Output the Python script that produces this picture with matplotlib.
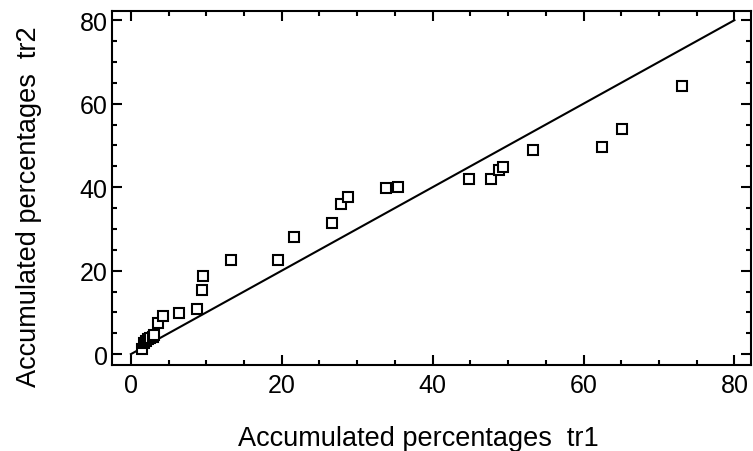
import matplotlib
matplotlib.use("Agg")
import matplotlib.pyplot as plt
from matplotlib.ticker import MultipleLocator

plt.rcParams['font.family'] = ['Liberation Sans', 'DejaVu Sans']

# accumulated percentages
tr1 = [1.5, 1.7, 2.0, 2.3, 2.6, 2.9, 3.1, 3.6, 4.3, 6.4, 8.8, 9.4, 9.6,
       13.3, 19.5, 21.6, 26.7, 27.8, 28.8, 33.8, 35.4, 44.8, 47.7, 48.8,
       49.3, 53.3, 62.5, 65.1, 73.1]
tr2 = [1.2, 2.6, 3.2, 3.6, 3.9, 4.2, 4.6, 7.4, 9.1, 9.8, 10.8, 15.3, 18.7,
       22.5, 22.5, 28.0, 31.4, 35.9, 37.6, 39.7, 40.1, 42.0, 42.0, 44.2,
       44.8, 48.9, 49.6, 53.9, 64.2]
diag = [0, 80]

fig = plt.figure(figsize=(7.53, 4.52), dpi=100)
ax = fig.add_axes([112/753, 1-366/452, 639/753, 354/452])

ax.plot(diag, diag, color='black', lw=1.5)
ax.plot(tr1, tr2, ls='none', marker='s', ms=6.5, mfc='white', mec='black', mew=1.5)

ax.set_xlim(-2.5, 82.2)
ax.set_ylim(-2.6, 82.2)
ax.xaxis.set_major_locator(MultipleLocator(20))
ax.xaxis.set_minor_locator(MultipleLocator(5))
ax.yaxis.set_major_locator(MultipleLocator(20))
ax.yaxis.set_minor_locator(MultipleLocator(5))
ax.tick_params(which='both', direction='in', top=True, right=True, width=1.5)
ax.tick_params(which='major', length=7)
ax.tick_params(which='minor', length=3.5)
ax.tick_params(axis='x', pad=6)
ax.tick_params(axis='y', pad=3)
for lab in ax.get_xticklabels() + ax.get_yticklabels():
    lab.set_family(['Liberation Sans Narrow', 'Liberation Sans'])
    lab.set_fontsize(18)
for s in ax.spines.values():
    s.set_linewidth(1.5)

ax.set_xlabel('Accumulated percentages  tr1', fontsize=19.5)
ax.set_ylabel('Accumulated percentages  tr2', fontsize=19.5)
ax.xaxis.set_label_coords(0.48, -0.17)
ax.yaxis.set_label_coords(-0.109, 0.45)

fig.savefig('out.png', dpi=100)
